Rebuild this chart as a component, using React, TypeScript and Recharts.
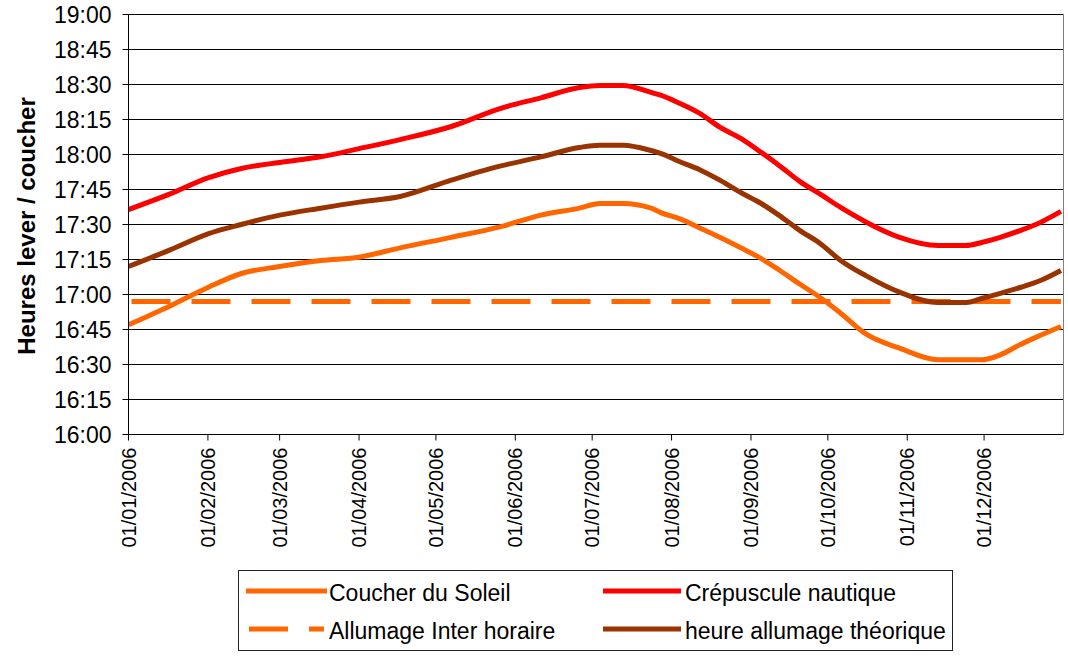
import React from 'react';
import { LineChart, Line, XAxis, YAxis, CartesianGrid, Legend, ReferenceLine } from 'recharts';

// Day of year (0 = 01/01/2006)
const days = [0, 16, 31, 44, 59, 75, 90, 106, 126, 145, 161, 176, 184, 193, 204, 208, 215, 223, 231, 239, 247, 254, 262, 270, 278, 288, 301, 316, 327, 333, 340, 348, 356, 364];

// Times in minutes after midnight
const coucherSoleil = [1007, 1015, 1023, 1029, 1032, 1034.6, 1036, 1040, 1044.5, 1049, 1054, 1057, 1059, 1059, 1057, 1055, 1052.5, 1048.5, 1044.4, 1040, 1035.4, 1030.5, 1024.5, 1018.7, 1012, 1003, 997, 992, 992, 992, 994, 998.5, 1002.5, 1006.3];
const crepusculeNautique = [1056.4, 1063, 1070, 1074, 1076.6, 1079, 1082.5, 1086.4, 1092, 1099.7, 1104.3, 1108.7, 1109.6, 1109.6, 1106.6, 1105.3, 1102, 1097.6, 1091.6, 1086.9, 1080.9, 1075.3, 1068.5, 1063, 1057.3, 1051, 1044.5, 1041, 1041, 1042.3, 1044.4, 1047.4, 1050.9, 1055.6];
const allumageTheorique = [1032, 1039, 1046, 1050, 1054, 1057, 1059.6, 1062, 1069, 1075, 1079, 1083, 1084, 1084, 1081.7, 1080.4, 1077, 1073.5, 1068.9, 1063.7, 1059, 1053.9, 1047.5, 1041.9, 1034.6, 1028, 1021, 1016.6, 1016.6, 1018.3, 1020.4, 1023, 1026, 1030.3];
const allumageInterHoraire = 1017; // 16:57 constant

const monthTicks = [0, 31, 59, 90, 120, 151, 181, 212, 243, 273, 304, 334];
const monthLabels = ['01/01/2006', '01/02/2006', '01/03/2006', '01/04/2006', '01/05/2006', '01/06/2006', '01/07/2006', '01/08/2006', '01/09/2006', '01/10/2006', '01/11/2006', '01/12/2006'];

const yTicks = [960, 975, 990, 1005, 1020, 1035, 1050, 1065, 1080, 1095, 1110, 1125, 1140];
const yLabels = ['16:00', '16:15', '16:30', '16:45', '17:00', '17:15', '17:30', '17:45', '18:00', '18:15', '18:30', '18:45', '19:00'];

const seriesNames = ['Coucher du Soleil', 'Crépuscule nautique', 'Allumage Inter horaire', 'heure allumage théorique'];

const data = days.map((d, i) => ({
  day: d,
  coucher: coucherSoleil[i],
  nautique: crepusculeNautique[i],
  inter: allumageInterHoraire,
  theorique: allumageTheorique[i],
}));

const FONT = "'Liberation Sans', Arial, Helvetica, sans-serif";

const XTick = (props: any) => {
  const { x, y, payload } = props;
  const idx = monthTicks.indexOf(payload.value);
  const label = idx >= 0 ? monthLabels[idx] : '';
  return (
    <g transform={`translate(${x},${y})`}>
      <text transform="rotate(-90)" x={-7} y={0} dy="0.35em" textAnchor="end" fontSize={20} fill="#000" fontFamily={FONT}>
        {label}
      </text>
    </g>
  );
};

// legend layout slots, in the order of seriesNames
const legendPos = [
  { sx1: 7, sx2: 88, sy: 20, tx: 90, ty: 30 },
  { sx1: 364, sx2: 442, sy: 20, tx: 446, ty: 30 },
  { sx1: 10, sx2: 85, sy: 58, tx: 90, ty: 68 },
  { sx1: 364, sx2: 442, sy: 58, tx: 446, ty: 68 },
];

const LegendContent = (props: any) => {
  const payload = props.payload || [];
  return (
    <div style={{ width: 715, height: 81, border: '1px solid #222', boxSizing: 'border-box', background: '#fff' }}>
      <svg width={713} height={79} style={{ display: 'block' }}>
        {payload.map((p: any, i: number) => {
          const pos = legendPos[seriesNames.indexOf(p.value)];
          if (!pos) return null;
          const dashed = p.payload && p.payload.strokeDasharray;
          return (
            <g key={i}>
              <line x1={pos.sx1} x2={pos.sx2} y1={pos.sy} y2={pos.sy} stroke={p.color} strokeWidth={5} strokeDasharray={dashed ? '39 21' : undefined} />
              <text x={pos.tx} y={pos.ty} fontSize={23} fill="#000" fontFamily={FONT}>{p.value}</text>
            </g>
          );
        })}
      </svg>
    </div>
  );
};

const YTitle = () => (
  <text transform="translate(35,226) rotate(-90)" textAnchor="middle" fontSize={24} fontWeight="bold" fill="#000" fontFamily={FONT}>
    Heures lever / coucher
  </text>
);

export default function App() {
  return (
    <div style={{ position: 'absolute', left: 0, top: 0, width: 1068, height: 656, background: '#fff', fontFamily: FONT }}>
      <LineChart width={1068} height={656} data={data} margin={{ top: 14.5, right: 4.5, bottom: 0, left: 0 }}>
        <CartesianGrid vertical={false} stroke="#000" strokeWidth={1} />
        <XAxis
          dataKey="day"
          type="number"
          domain={[0, 365]}
          ticks={monthTicks}
          interval={0}
          tick={<XTick />}
          tickSize={6}
          tickMargin={0}
          height={221.5}
          axisLine={{ stroke: '#000' }}
          tickLine={{ stroke: '#000' }}
          allowDataOverflow
        />
        <YAxis
          type="number"
          domain={[960, 1140]}
          ticks={yTicks}
          interval={0}
          tickFormatter={(v: number) => yLabels[yTicks.indexOf(v)]}
          width={128.5}
          tickSize={6}
          tickMargin={11}
          tick={{ fontSize: 23, fill: '#000' }}
          axisLine={{ stroke: '#000' }}
          tickLine={{ stroke: '#000' }}
          allowDataOverflow
          label={{ content: () => <YTitle /> }}
        />
        <ReferenceLine x={365} stroke="#808080" strokeWidth={1} />
        <Legend
          verticalAlign="middle"
          align="center"
          layout="horizontal"
          wrapperStyle={{ left: 238, top: 570, width: 715, height: 81 }}
          content={<LegendContent />}
        />
        <Line name={seriesNames[0]} dataKey="coucher" type="monotone" stroke="#FF6600" strokeWidth={5} dot={false} activeDot={false} isAnimationActive={false} />
        <Line name={seriesNames[1]} dataKey="nautique" type="monotone" stroke="#FF0000" strokeWidth={5} dot={false} activeDot={false} isAnimationActive={false} />
        <Line name={seriesNames[2]} dataKey="inter" type="linear" stroke="#FF6600" strokeWidth={5} strokeDasharray="39 21" strokeDashoffset={-3} dot={false} activeDot={false} isAnimationActive={false} />
        <Line name={seriesNames[3]} dataKey="theorique" type="monotone" stroke="#993300" strokeWidth={5} dot={false} activeDot={false} isAnimationActive={false} />
      </LineChart>
    </div>
  );
}
